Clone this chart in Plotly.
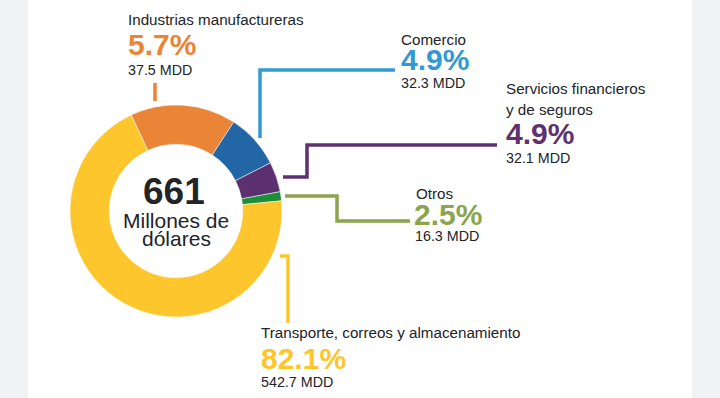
import plotly.graph_objects as go

W, H = 720, 398

# ---- data ----
sectors = ["Industrias manufactureras", "Comercio", "Servicios financieros y de seguros",
           "Otros", "Transporte, correos y almacenamiento"]
shares_pct = [5.7, 4.9, 4.9, 2.5, 82.1]
amounts_mdd = [37.5, 32.3, 32.1, 16.3, 542.7]
# slice sizes as drawn in the reference graphic (degrees of arc)
drawn_arc = [58, 30, 16.5, 5, 250.5]
total_mdd = 661

slice_colors = ["#EA8436", "#2366A6", "#5C2F70", "#1B8E3C", "#FCC62C"]
callout_colors = ["#EA8436", "#3399D4", "#5E3170", "#8BA54C", "#FCC62C"]
TXT = "#222428"
FONT = "Liberation Sans, Arial, sans-serif"


def px(x):
    return x / W


def py(y):
    return 1 - y / H


cx, cy, R = 176, 211, 106

fig = go.Figure(go.Pie(
    labels=sectors,
    values=drawn_arc,
    customdata=list(zip(shares_pct, amounts_mdd)),
    hole=0.63,
    sort=False,
    direction="clockwise",
    rotation=-25,
    marker=dict(colors=slice_colors, line=dict(color="white", width=0.5)),
    textinfo="none",
    hovertemplate="%{label}<br>%{customdata[0]}%<br>%{customdata[1]} MDD<extra></extra>",
    domain=dict(x=[px(cx - R), px(cx + R)], y=[py(cy + R), py(cy - R)]),
    showlegend=False,
))

shapes = [dict(type="rect", xref="paper", yref="paper", x0=px(28), x1=px(692), y0=0, y1=1,
               fillcolor="white", line=dict(width=0), layer="below")]


def poly(points, color):
    d = "M " + " L ".join(f"{px(x)},{py(y)}" for x, y in points)
    shapes.append(dict(type="path", xref="paper", yref="paper", path=d,
                       line=dict(color=color, width=3.5)))


poly([(155, 83), (155, 101)], callout_colors[0])
poly([(260, 138), (260, 70), (395, 70)], callout_colors[1])
poly([(283, 177), (307, 177), (307, 145), (497, 145)], callout_colors[2])
poly([(285, 196), (337, 196), (337, 221), (410, 221)], callout_colors[3])
poly([(280, 256), (288, 256), (288, 323)], callout_colors[4])

annotations = []


def ann(x, cap_top, text, size, color=TXT, bold=False, anchor="left"):
    ytop = cap_top - 1 - 0.19 * size
    annotations.append(dict(
        xref="paper", yref="paper", x=px(x), y=py(ytop), xanchor=anchor, yanchor="top",
        text=f"<b>{text}</b>" if bold else text, showarrow=False,
        font=dict(family=FONT, size=size, color=color)))


def pct(v):
    return f"{v:.1f}%"


def mdd(v):
    return f"{v:.1f} MDD"


LAB, AMT, PCT = 15.2, 14.3, 30

# Industrias manufactureras
ann(126, 13, sectors[0], LAB)
ann(126, 33, pct(shares_pct[0]), PCT, callout_colors[0], True)
ann(126, 64, mdd(amounts_mdd[0]), AMT)
# Comercio
ann(399, 33, sectors[1], LAB)
ann(399, 48, pct(shares_pct[1]), PCT, callout_colors[1], True)
ann(399, 77, mdd(amounts_mdd[1]), AMT)
# Servicios financieros
ann(504, 82, "Servicios financieros", LAB)
ann(504, 103, "y de seguros", LAB)
ann(504, 122, pct(shares_pct[2]), PCT, callout_colors[2], True)
ann(504, 152, mdd(amounts_mdd[2]), AMT)
# Otros
ann(414, 187, sectors[3], LAB)
ann(412, 203, pct(shares_pct[3]), PCT, callout_colors[3], True)
ann(413, 230, mdd(amounts_mdd[3]), AMT)
# Transporte
ann(259, 326, sectors[4], LAB)
ann(259, 347, pct(shares_pct[4]), PCT, callout_colors[4], True)
ann(259, 376, mdd(amounts_mdd[4]), AMT)
# center
ann(cx - 2, 177, f"{total_mdd}", 37, TXT, True, anchor="center")
ann(cx, 212, "Millones de", 21, TXT, False, anchor="center")
ann(cx, 230, "dólares", 21, TXT, False, anchor="center")

fig.update_layout(
    width=W, height=H,
    margin=dict(l=0, r=0, t=0, b=0),
    paper_bgcolor="#F1F2F4",
    plot_bgcolor="white",
    shapes=shapes,
    annotations=annotations,
)

fig.write_html("out.html", config={"displayModeBar": False},
               post_script="document.body.style.margin='0';")
